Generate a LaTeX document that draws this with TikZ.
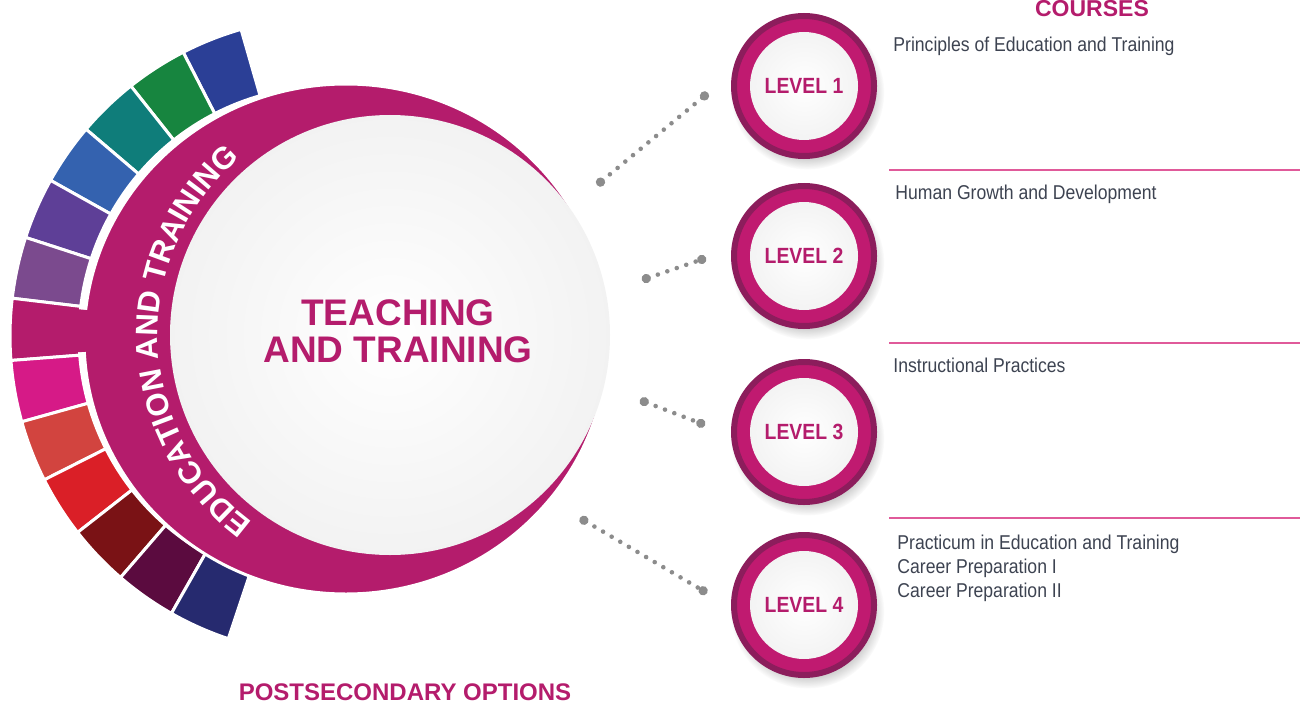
\documentclass[tikz,border=0pt]{standalone}
\usepackage{fontspec}
\setmainfont{Liberation Sans}
\newfontfamily\narrowfont[FakeStretch=0.88]{Liberation Sans}
\usetikzlibrary{positioning}
\usetikzlibrary{shadows,decorations.text,arrows.meta}

\definecolor{ringmag}{HTML}{B41C6C}
\definecolor{lvlmag}{HTML}{C01A70}
\definecolor{lvldark}{HTML}{8C1D5C}
\definecolor{coursetxt}{HTML}{3D4351}
\definecolor{sepink}{HTML}{E05A9A}
\definecolor{dotgray}{HTML}{8C8C8C}
\definecolor{blkA}{HTML}{2B3F96}
\definecolor{blkB}{HTML}{17853F}
\definecolor{blkC}{HTML}{0F7D7A}
\definecolor{blkD}{HTML}{3462AF}
\definecolor{blkE}{HTML}{5E3F97}
\definecolor{blkF}{HTML}{7B4A8E}
\definecolor{blkG}{HTML}{B41C6C}
\definecolor{blkH}{HTML}{D61A87}
\definecolor{blkI}{HTML}{D2443F}
\definecolor{blkJ}{HTML}{DA1F27}
\definecolor{blkK}{HTML}{7A1215}
\definecolor{blkL}{HTML}{5B0B3F}
\definecolor{blkM}{HTML}{262A6F}

\tikzset{
  blockseg/.style={draw=white, line width=1.5pt},
  maincirc/.style={circle, minimum size=220pt, inner sep=0pt, shading=radial,
    inner color=white, outer color=black!5},
  titletext/.style={text=ringmag, align=center, font=\bfseries\fontsize{18.5}{18.5}\selectfont},
  lvl/.style={circle, minimum size=70pt, inner sep=0pt, fill=lvlmag, draw=lvldark, line width=3pt,
    circular drop shadow={shadow xshift=1.5pt, shadow yshift=-3pt, opacity=.3, fill=black!60},
    text=ringmag, font=\narrowfont\bfseries\fontsize{11}{13}\selectfont,
    path picture={\shade[inner color=white, outer color=black!6]
      (path picture bounding box.center) circle[radius=27pt];}},
  course/.style={anchor=north west, inner sep=0pt, align=left, text=coursetxt,
    font=\narrowfont\fontsize{10}{12}\selectfont},
  sepline/.style={draw=sepink, line width=1pt},
  dotlink/.style={draw=dotgray, line width=2.3pt, line cap=round, dash pattern=on 0pt off 5pt,
    {Circle[length=4.5pt]}-{Circle[length=4.5pt]}},
}

\begin{document}
\begin{tikzpicture}[x=0.5pt, y=-0.5pt]
  \useasboundingbox (0,0) rectangle (1300,706);

  % colour blocks round the ring
  \foreach \col [count=\i from 0] in {blkA,blkB,blkC,blkD,blkE,blkF,blkG,blkH,blkI,blkJ,blkK,blkL,blkM}{
    \pgfmathsetmacro{\sa}{-106-11.2*\i}
    \pgfmathsetmacro{\ea}{\sa-11.2}
    \filldraw[blockseg, fill=\col] (329,336) ++(\sa:250) arc[start angle=\sa, end angle=\ea, radius=250]
      -- ++(\ea:69) arc[start angle=\ea, end angle=\sa, radius=319] -- cycle;
  }

  % magenta crescent
  \filldraw[fill=ringmag, draw=white, line width=1.5pt] (346,339) ellipse[x radius=262, y radius=255];
  \fill[ringmag] (329,336) ++(-183.7:228) arc[start angle=-183.7, end angle=-173.9, radius=228]
    -- ++(-173.9:72) arc[start angle=-173.9, end angle=-183.7, radius=300] -- cycle;

  \node[maincirc] (hub) at (390,335) {};
  \node[titletext] (title) at (398,331) {TEACHING\\AND TRAINING};

  \path[decorate, decoration={text along path, text align=center, text color=white,
      text={|\bfseries\fontsize{15.5}{18}\selectfont|EDUCATION AND TRAINING}}]
    (390,335) ++(118:232) arc[start angle=118, end angle=238, radius=232];

  % levels
  \node[lvl] (lv1) at (804,86) {LEVEL 1};
  \node[lvl] (lv2) at (804,256) {LEVEL 2};
  \node[lvl] (lv3) at (804,432) {LEVEL 3};
  \node[lvl] (lv4) at (804,605) {LEVEL 4};

  \coordinate (d1a) at (597,185); \coordinate (d1b) at (708,93);
  \coordinate (d2a) at (642,280); \coordinate (d2b) at (706,258);
  \coordinate (d3a) at (640,400); \coordinate (d3b) at (705,425);
  \coordinate (d4a) at (580,518); \coordinate (d4b) at (707,593);
  \draw[dotlink] (d1a) -- (d1b);
  \draw[dotlink] (d2a) -- (d2b);
  \draw[dotlink] (d3a) -- (d3b);
  \draw[dotlink] (d4a) -- (d4b);

  % courses
  \node[anchor=base, text=ringmag, font=\bfseries\fontsize{11.5}{12}\selectfont] (crs) at (1092,17) {COURSES};
  \node[course] (c1) at (893,37) {Principles of Education and Training};
  \node[course] (c2) at (895,185) {Human Growth and Development};
  \node[course] (c3) at (893,358) {Instructional Practices};
  \node[course] (c4) at (897,535) {Practicum in Education and Training\\Career Preparation I\\Career Preparation II};

  \draw[sepline] (889,170) -- (1300,170);
  \draw[sepline] (889,343) -- (1300,343);
  \draw[sepline] (889,518) -- (1300,518);

  \node[text=ringmag, font=\bfseries\fontsize{12}{12}\selectfont] (post) at (405,692) {POSTSECONDARY OPTIONS};
\end{tikzpicture}
\end{document}
